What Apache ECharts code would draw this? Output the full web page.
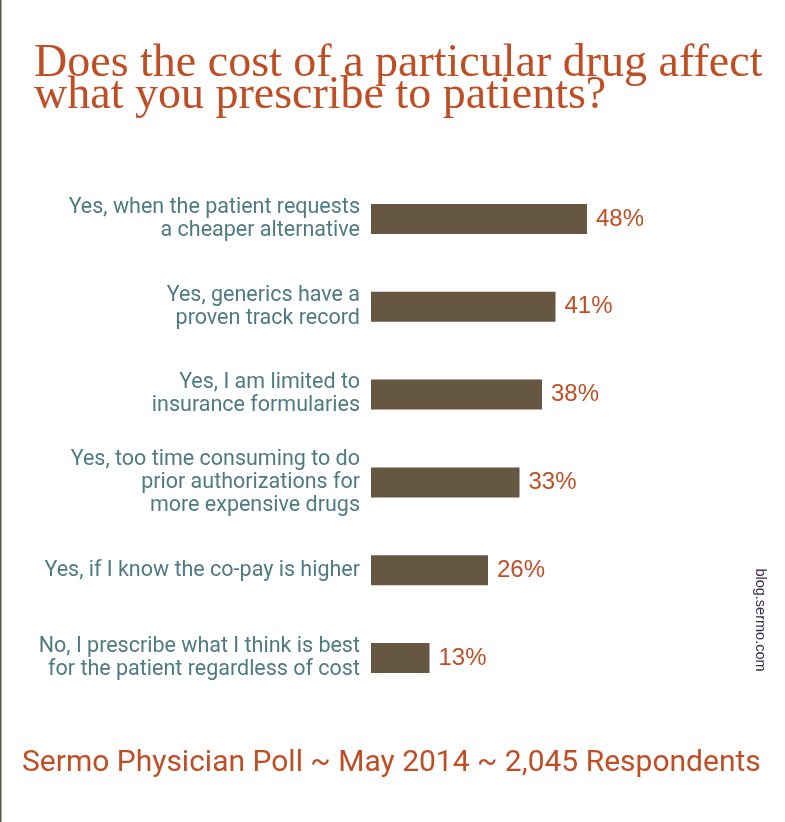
<!DOCTYPE html>
<html>
<head>
<meta charset="utf-8">
<script src="https://cdn.jsdelivr.net/npm/echarts@6/dist/echarts.min.js"></script>
<style>
html,body{margin:0;padding:0;background:#ffffff;}
#chart{width:785px;height:822px;}
</style>
</head>
<body>
<div id="chart"></div>
<script>
var titleLines = ['Does the cost of a particular drug affect', 'what you prescribe to patients?'];
var categories = [
  'Yes, when the patient requests\na cheaper alternative',
  'Yes, generics have a\nproven track record',
  'Yes, I am limited to\ninsurance formularies',
  'Yes, too time consuming to do\nprior authorizations for\nmore expensive drugs',
  'Yes, if I know the co-pay is higher',
  'No, I prescribe what I think is best\nfor the patient regardless of cost'
];
var values = [48, 41, 38, 33, 26, 13];
var footerText = 'Sermo Physician Poll ~ May 2014 ~ 2,045 Respondents';
var sourceText = 'blog.sermo.com';

var ORANGE = '#bf4e24';
var TEAL = '#4e7b81';
var BROWN = '#665742';
var SANS = "'Roboto', sans-serif";

var chart = echarts.init(document.getElementById('chart'), null, {renderer: 'canvas'});
chart.setOption({
  backgroundColor: '#ffffff',
  animation: false,
  title: {
    text: titleLines.join('\n'),
    left: 29,
    top: 43,
    textStyle: {
      fontFamily: "'Liberation Serif', serif",
      fontWeight: 'normal',
      fontSize: 46,
      lineHeight: 32,
      color: ORANGE
    }
  },
  grid: {left: 371, top: 175, width: 270, height: 527, containLabel: false},
  xAxis: {
    type: 'value', min: 0, max: 60, show: false
  },
  yAxis: {
    type: 'category',
    inverse: true,
    data: categories,
    axisLine: {show: false},
    axisTick: {show: false},
    splitLine: {show: false},
    axisLabel: {
      margin: 11,
      color: TEAL,
      fontFamily: SANS,
      fontSize: 21.5,
      lineHeight: 23,
      align: 'right'
    }
  },
  series: [{
    type: 'bar',
    data: values,
    barWidth: 30,
    itemStyle: {color: BROWN},
    label: {
      show: true,
      position: 'right',
      distance: 9,
      formatter: '{c}%',
      color: ORANGE,
      fontFamily: "'Liberation Sans', sans-serif",
      fontSize: 24
    }
  }],
  graphic: [
    {type: 'rect', left: 0, top: 0, shape: {width: 1.5, height: 822}, style: {fill: '#5e5445'}, silent: true},
    {type: 'text', x: 22, y: 763, style: {text: footerText, fill: ORANGE, font: "30px 'Roboto', sans-serif", textVerticalAlign: 'middle', textAlign: 'left'}},
    {type: 'text', x: 760, y: 620, rotation: -Math.PI / 2, style: {text: sourceText, fill: '#3d2a45', font: "14.5px 'Liberation Sans', sans-serif", textAlign: 'center', textVerticalAlign: 'middle'}}
  ]
});
</script>
</body>
</html>
